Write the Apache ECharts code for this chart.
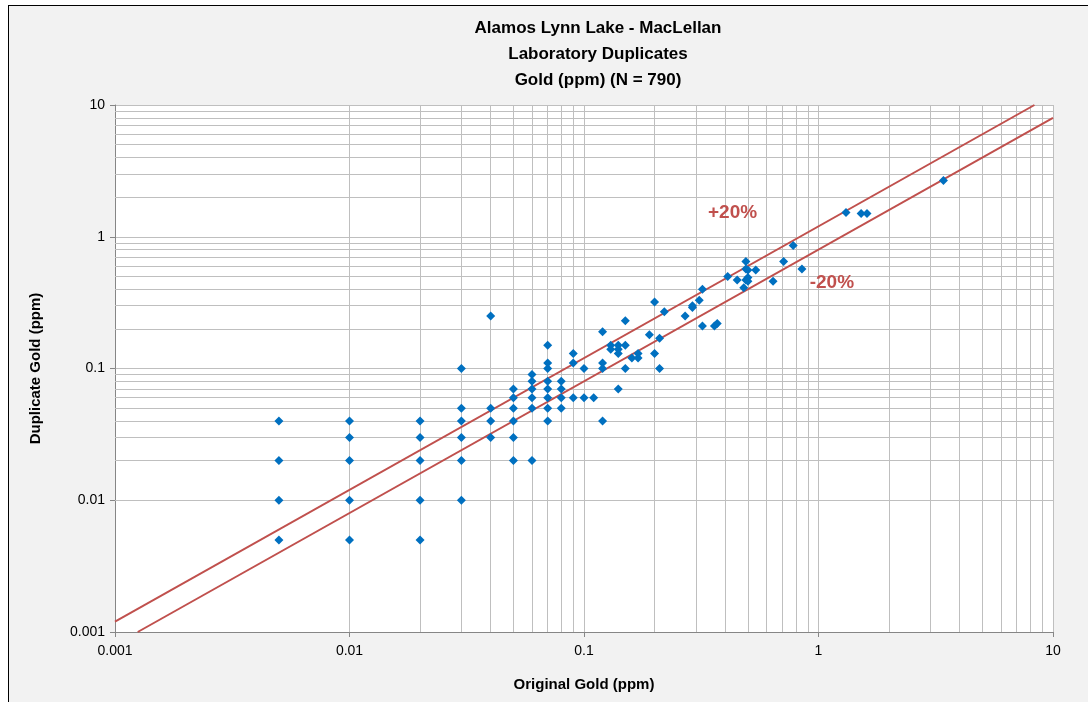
<!DOCTYPE html>
<html><head><meta charset="utf-8">
<script src="https://cdn.jsdelivr.net/npm/echarts@6/dist/echarts.min.js"></script>
<style>
html,body{margin:0;padding:0;background:#fff;}
#frame{position:absolute;left:8px;top:5px;width:1200px;height:800px;border:1px solid #000;background:#f2f2f2;}
#chart{position:absolute;left:0;top:0;width:1088px;height:702px;}
</style></head>
<body>
<div id="frame"></div>
<div id="chart"></div>
<script>
const titleLines = ['Alamos Lynn Lake - MacLellan', 'Laboratory Duplicates', 'Gold (ppm) (N = 790)'];
const xAxisName = 'Original Gold (ppm)';
const yAxisName = 'Duplicate Gold (ppm)';
const axisMin = 0.001, axisMax = 10;
const decades = [0.001, 0.01, 0.1, 1];
const minorMultipliers = [2, 3, 4, 5, 6, 7, 8, 9];

const origGold = [
  0.005,0.005,0.005,0.005,
  0.01,0.01,0.01,0.01,0.01,
  0.02,0.02,0.02,0.02,0.02,
  0.03,0.03,0.03,0.03,0.03,0.03,
  0.04,0.04,0.04,0.04,
  0.05,0.05,0.05,0.05,0.05,0.05,
  0.06,0.06,0.06,0.06,0.06,0.06,
  0.07,0.07,0.07,0.07,0.07,0.07,0.07,0.07,
  0.08,0.08,0.08,0.08,
  0.09,0.09,0.09,
  0.1,0.1,
  0.11,
  0.12,0.12,0.12,0.12,
  0.13,0.13,
  0.14,0.14,0.14,0.14,
  0.15,0.15,0.15,
  0.16,
  0.17,0.17,
  0.19,
  0.2,0.2,
  0.21,0.21,
  0.22,
  0.27,
  0.29,0.29,
  0.31,
  0.32,0.32,
  0.36,0.37,
  0.41,
  0.45,
  0.48,
  0.49,0.49,0.49,
  0.5,0.5,0.5,
  0.54,
  0.64,
  0.71,
  0.78,
  0.85,
  1.31,
  1.52,
  1.61,
  3.41
];
const dupGold = [
  0.04,0.02,0.01,0.005,
  0.04,0.03,0.02,0.01,0.005,
  0.04,0.03,0.02,0.01,0.005,
  0.1,0.05,0.04,0.03,0.02,0.01,
  0.25,0.05,0.04,0.03,
  0.07,0.06,0.05,0.04,0.03,0.02,
  0.09,0.08,0.07,0.06,0.05,0.02,
  0.15,0.11,0.1,0.08,0.07,0.06,0.05,0.04,
  0.08,0.07,0.06,0.05,
  0.13,0.11,0.06,
  0.1,0.06,
  0.06,
  0.19,0.11,0.1,0.04,
  0.15,0.14,
  0.15,0.14,0.13,0.07,
  0.23,0.15,0.1,
  0.12,
  0.12,0.13,
  0.18,
  0.32,0.13,
  0.17,0.1,
  0.27,
  0.25,
  0.29,0.3,
  0.33,
  0.4,0.21,
  0.21,0.22,
  0.5,
  0.47,
  0.41,
  0.65,0.57,0.47,
  0.56,0.49,0.46,
  0.56,
  0.46,
  0.65,
  0.86,
  0.57,
  1.53,
  1.5,
  1.5,
  2.67
];
// +/-20% reference lines
const plusLine = [[0.001, 0.0012], [8.3333, 10]];
const minusLine = [[0.00125, 0.001], [10, 8]];
const labelPlus = [0.43, 1.51];
const labelMinus = [1.14, 0.446];

const points = origGold.map((x, i) => [x, dupGold[i]]);
const minorVals = [];
decades.forEach(d => minorMultipliers.forEach(m => minorVals.push(+(d * m).toPrecision(3))));

const gridColor = '#bfbfbf';
const red = '#c0504d';
const font = 'Liberation Sans Narrow, Liberation Sans, Arial';
const fmt = v => String(+(+v).toPrecision(4));

const chart = echarts.init(document.getElementById('chart'));
chart.setOption({
  backgroundColor: 'transparent',
  animation: false,
  title: {
    text: titleLines.join('\n'),
    left: 593, top: 10, textAlign: 'center',
    textStyle: {fontFamily: font, fontSize: 17, fontWeight: 'bold', color: '#000', lineHeight: 26}
  },
  grid: {left: 115, right: 35, top: 105, bottom: 70, containLabel: false, show: true, backgroundColor: '#fff', borderWidth: 0},
  xAxis: {
    type: 'log', logBase: 10, min: axisMin, max: axisMax,
    name: xAxisName, nameLocation: 'middle', nameGap: 45,
    nameTextStyle: {fontFamily: font, fontSize: 15, fontWeight: 'bold', color: '#000'},
    axisLine: {show: true, onZero: false, lineStyle: {color: '#868686', width: 1}},
    axisTick: {show: true, length: 5, lineStyle: {color: '#868686'}},
    axisLabel: {formatter: fmt, fontFamily: font, fontSize: 14, color: '#000', margin: 12},
    splitLine: {show: true, lineStyle: {color: gridColor, width: 1}}
  },
  yAxis: {
    type: 'log', logBase: 10, min: axisMin, max: axisMax,
    name: yAxisName, nameLocation: 'middle', nameGap: 72, nameRotate: 90,
    nameTextStyle: {fontFamily: font, fontSize: 15, fontWeight: 'bold', color: '#000'},
    axisLine: {show: true, onZero: false, lineStyle: {color: '#868686', width: 1}},
    axisTick: {show: true, length: 5, lineStyle: {color: '#868686'}},
    axisLabel: {formatter: fmt, fontFamily: font, fontSize: 14, color: '#000', margin: 10},
    splitLine: {show: true, lineStyle: {color: gridColor, width: 1}}
  },
  series: [
    {
      type: 'scatter', name: 'minorGrid', data: [[1, 1]], symbolSize: 0, silent: true, z: 1,
      markLine: {
        silent: true, symbol: ['none', 'none'], animation: false, z: 1,
        label: {show: false},
        lineStyle: {color: gridColor, width: 1, type: 'solid'},
        emphasis: {disabled: true},
        data: minorVals.map(v => ({xAxis: v})).concat(minorVals.map(v => ({yAxis: v})))
      }
    },
    {
      type: 'line', name: '+20%', data: plusLine, showSymbol: false, symbol: 'none', z: 6,
      lineStyle: {color: red, width: 2}, silent: true
    },
    {
      type: 'line', name: '-20%', data: minusLine, showSymbol: false, symbol: 'none', z: 6,
      lineStyle: {color: red, width: 2}, silent: true
    },
    {
      type: 'scatter', name: 'Duplicates', data: points, symbol: 'diamond', symbolSize: 9, z: 10,
      itemStyle: {color: '#0070c0', opacity: 1}
    },
    {
      type: 'scatter', name: 'labels', symbolSize: 0, z: 11, silent: true,
      itemStyle: {color: red, opacity: 1},
      data: [
        {value: labelPlus, label: {show: true, formatter: '+20%'}},
        {value: labelMinus, label: {show: true, formatter: '-20%'}}
      ],
      label: {position: 'inside', color: red, fontSize: 19, fontWeight: 'bold', fontFamily: font, textBorderWidth: 0, opacity: 1}
    }
  ]
});
</script>
</body></html>
